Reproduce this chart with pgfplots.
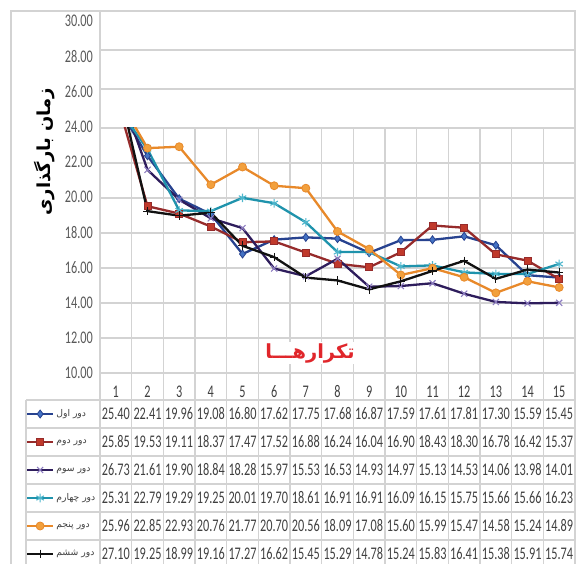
\documentclass[border=0pt]{standalone}
\usepackage{pgfplots}
\pgfplotsset{compat=1.18}
\usepackage{pgfplotstable}
\usepackage{fontspec}
\setmainfont{Carlito}
\newfontfamily\fa[Script=Arabic]{DejaVu Sans}
\TeXXeTstate=1

\definecolor{gridc}{HTML}{D3D3D3}
\definecolor{tickc}{HTML}{595959}
\definecolor{txtc}{HTML}{404040}
\definecolor{c1}{HTML}{27428F}\definecolor{c1m}{HTML}{4472C4}
\definecolor{c2}{HTML}{962B2B}\definecolor{c2m}{HTML}{C0392B}
\definecolor{c3}{HTML}{2E1D5C}\definecolor{c3m}{HTML}{8C7CC0}
\definecolor{c4}{HTML}{1F93AC}\definecolor{c4m}{HTML}{4DB6CC}
\definecolor{c5}{HTML}{E8892A}\definecolor{c5m}{HTML}{F2A03D}
\definecolor{c6}{HTML}{111111}
\definecolor{redlab}{HTML}{E0262B}

% load time per iteration for six runs
\pgfplotstableread{
it s1 s2 s3 s4 s5 s6
1 25.40 25.85 26.73 25.31 25.96 27.10
2 22.41 19.53 21.61 22.79 22.85 19.25
3 19.96 19.11 19.90 19.29 22.93 18.99
4 19.08 18.37 18.84 19.25 20.76 19.16
5 16.80 17.47 18.28 20.01 21.77 17.27
6 17.62 17.52 15.97 19.70 20.70 16.62
7 17.75 16.88 15.53 18.61 20.56 15.45
8 17.68 16.24 16.53 16.91 18.09 15.29
9 16.87 16.04 14.93 16.91 17.08 14.78
10 17.59 16.90 14.97 16.09 15.60 15.24
11 17.61 18.43 15.13 16.15 15.99 15.83
12 17.81 18.30 14.53 15.75 15.47 16.41
13 17.30 16.78 14.06 15.66 14.58 15.38
14 15.59 16.42 13.98 15.66 15.24 15.91
15 15.45 15.37 14.01 16.23 14.89 15.74
}\loadtime

\tikzset{numfont/.style={font=\fontsize{12.3}{12}\selectfont, text=txtc, yscale=1.45}}

\pgfplotsset{
  gridbase/.style={
    scale only axis, width=475bp,
    xmin=0.5, xmax=15.5,
    minor xtick={0.5,1.5,...,15.5},
    xminorgrids, ymajorgrids,
    grid style={gridc, line width=1.4bp},
    minor grid style={gridc, line width=1.4bp},
    axis line style={gridc, line width=1.4bp},
    major tick length=0pt, minor tick length=0pt,
  },
}

\begin{document}
\begin{tikzpicture}
\path[use as bounding box, clip] (0bp,0bp) rectangle (576bp,564bp);

\begin{scope}[x=1bp, y=1bp]
  % chart area frame
  \draw[gridc, line width=1.2] (11,0) -- (11,553) -- (100,553);
  % data table rules
  \foreach \yy in {164,136,108,80,52,24}
    \draw[gridc, line width=1.3] (26,\yy) -- (576,\yy);
  \draw[gridc, line width=1.3] (26,0) -- (26,164);
  \foreach \k in {0,...,15}
    \draw[gridc, line width=1.3] ({100+\k*31.667},0) -- ({100+\k*31.667},191);
\end{scope}

% upper band of the grid, 24 to 30
\begin{axis}[gridbase, at={(100bp,436bp)}, anchor=south west, height=117bp,
  ymin=24, ymax=30, ytick={24,26,...,30}, xtick=\empty,
  yticklabels={}]
\end{axis}

% value labels of the vertical axis
\begin{axis}[scale only axis, width=475bp, height=352bp,
  at={(100bp,191bp)}, anchor=south west,
  xmin=0.5, xmax=15.5, ymin=10, ymax=30, ytick={10,12,...,30},
  hide x axis, axis y line*=left, axis line style={draw=none},
  major tick length=0pt, tick style={draw=none},
  /pgf/number format/assume math mode=true,
  yticklabel={\pgfmathprintnumber[fixed,fixed zerofill,precision=2]{\tick}},
  yticklabel style={font=\fontsize{12.3}{12}\selectfont, text=tickc,
    yscale=1.45, inner sep=0pt, anchor=east, xshift=-7bp}]
\end{axis}

% lower band with the six runs
\begin{axis}[gridbase, at={(100bp,191bp)}, anchor=south west, height=245bp,
  ymin=10, ymax=24, ytick={10,12,...,24}, yticklabels={},
  xtick={1,...,15},
  /pgf/number format/assume math mode=true,
  xticklabel style={numfont, anchor=center, yshift=-13bp},
  clip=true,
  legend cell align=left,
  legend style={at={(-0.1558,-0.1102)}, anchor=north west, draw=none,
    fill=none, inner sep=0pt, outer sep=0pt, row sep=0pt, column sep=2bp,
    nodes={minimum height=28bp, inner sep=0pt,
      font=\fontsize{9.3}{9.3}\selectfont, text=txtc}},
  legend image code/.code={
    \draw[mark repeat=2, mark phase=2]
      plot coordinates {(0bp,0bp) (13bp,0bp) (26bp,0bp)};},
  every axis plot/.append style={line width=2.3bp}]
\addplot[c1, mark=diamond*, mark size=4bp,
  mark options={fill=c1m, draw=c1, line width=0.8bp}]
  table[x=it, y=s1]{\loadtime};
\addlegendentry{\fa\beginR دور اول\endR}
\addplot[c2, mark=square*, mark size=3.5bp,
  mark options={fill=c2m, draw=c2, line width=0.8bp}]
  table[x=it, y=s2]{\loadtime};
\addlegendentry{\fa\beginR دور دوم\endR}
\addplot[c3, mark=x, mark size=4.3bp,
  mark options={draw=c3m, line width=1.1bp}]
  table[x=it, y=s3]{\loadtime};
\addlegendentry{\fa\beginR دور سوم\endR}
\addplot[c4, mark=asterisk, mark size=4.3bp,
  mark options={draw=c4m, line width=1.1bp}]
  table[x=it, y=s4]{\loadtime};
\addlegendentry{\fa\beginR دور چهارم\endR}
\addplot[c5, mark=*, mark size=4bp,
  mark options={fill=c5m, draw=c5, line width=0.8bp}]
  table[x=it, y=s5]{\loadtime};
\addlegendentry{\fa\beginR دور پنجم\endR}
\addplot[c6, mark=+, mark size=4.3bp,
  mark options={draw=c6, line width=1.1bp}]
  table[x=it, y=s6]{\loadtime};
\addlegendentry{\fa\beginR دور ششم\endR}
\end{axis}

\begin{scope}[x=1bp, y=1bp]
  % values of the data table
  \foreach \r in {0,...,14}{
    \foreach \c in {1,...,6}{
      \pgfplotstablegetelem{\r}{s\c}\of\loadtime
      \node[numfont, inner sep=0pt] at ({100+(\r+0.5)*31.667},{150-(\c-1)*28})
        {\pgfplotsretval};
    }
  }
  % axis titles
  \node[rotate=90, font=\fa\bfseries\fontsize{18}{18}\selectfont]
    at (45,412) {\beginR زمان بارگذاری\endR};
  \node[fill=white, inner sep=1bp, text=redlab,
    font=\fa\bfseries\fontsize{19.5}{19.5}\selectfont]
    at (310,211) {\beginR تکرارهـــا\endR};
\end{scope}
\end{tikzpicture}
\end{document}
